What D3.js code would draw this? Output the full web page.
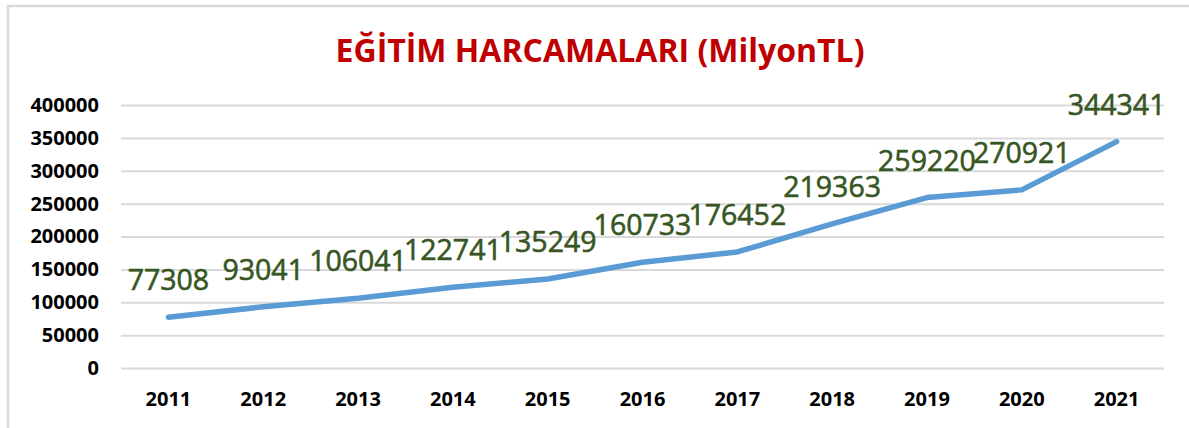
<!DOCTYPE html>
<html>
<head>
<meta charset="utf-8">
<script src="https://cdn.jsdelivr.net/npm/d3@7"></script>
<style>
  body { margin: 0; background: #fff; }
</style>
</head>
<body>
<div id="chart"></div>
<script>
// data
const years = ["2011", "2012", "2013", "2014", "2015", "2016", "2017", "2018", "2019", "2020", "2021"];
const spending = [77308, 93041, 106041, 122741, 135249, 160733, 176452, 219363, 259220, 270921, 344341];
const yTicks = [0, 50000, 100000, 150000, 200000, 250000, 300000, 350000, 400000];

const W = 1189, H = 428;
const margin = {top: 105, right: 25, bottom: 60, left: 121},
    width = 1164 - margin.left,
    height = 368 - margin.top;

const svg = d3.select("#chart")
  .append("svg")
    .attr("width", W)
    .attr("height", H);

// chart border (runs off right and bottom)
svg.append("rect")
  .attr("x", 8).attr("y", 6)
  .attr("width", W + 10).attr("height", H + 10)
  .attr("fill", "none")
  .attr("stroke", "#d9d9d9")
  .attr("stroke-width", 2.5);

svg.append("text")
  .attr("x", 600).attr("y", 62)
  .attr("text-anchor", "middle")
  .style("font-family", "'Open Sans', sans-serif")
  .style("font-weight", "bold")
  .style("font-size", "32px")
  .attr("fill", "#c00000")
  .text("EĞİTİM HARCAMALARI (MilyonTL)");

const g = svg.append("g")
  .attr("transform", `translate(${margin.left},${margin.top})`);

const x = d3.scaleBand()
  .domain(years)
  .range([0, width]);

const y = d3.scaleLinear()
  .domain([0, 400000])
  .range([height, 0]);

// gridlines + y labels
const yAxis = g.append("g")
  .call(d3.axisLeft(y).tickValues(yTicks).tickSize(-width).tickFormat(d => d).tickPadding(22));
yAxis.select(".domain").remove();
yAxis.selectAll(".tick line").attr("stroke", "#d9d9d9").attr("stroke-width", 2);
yAxis.selectAll(".tick text")
  .attr("fill", "#000")
  .style("font-family", "'Open Sans', sans-serif")
  .style("font-weight", "bold")
  .style("font-size", "20px");

// x labels
const xAxis = g.append("g")
  .attr("transform", `translate(0,${height})`)
  .call(d3.axisBottom(x).tickSize(0).tickPadding(24));
xAxis.select(".domain").remove();
xAxis.selectAll(".tick text")
  .attr("fill", "#000")
  .style("font-family", "'Open Sans', sans-serif")
  .style("font-weight", "bold")
  .style("font-size", "20px");

const cx = (d, i) => x(years[i]) + x.bandwidth() / 2;

// line
g.append("path")
  .datum(spending)
  .attr("fill", "none")
  .attr("stroke", "#5b9bd5")
  .attr("stroke-width", 5.5)
  .attr("stroke-linecap", "round")
  .attr("stroke-linejoin", "round")
  .attr("d", d3.line().x(cx).y(d => y(d)));

// data labels
g.selectAll(".lbl")
  .data(spending)
  .join("text")
    .attr("x", cx)
    .attr("y", d => y(d) - 27)
    .attr("text-anchor", "middle")
    .attr("fill", "#375623")
    .attr("stroke", "#375623")
    .attr("stroke-width", 0.6)
    .style("font-family", "'Open Sans', sans-serif")
    .style("font-size", "28.5px")
    .text(d => d);
</script>
</body>
</html>
